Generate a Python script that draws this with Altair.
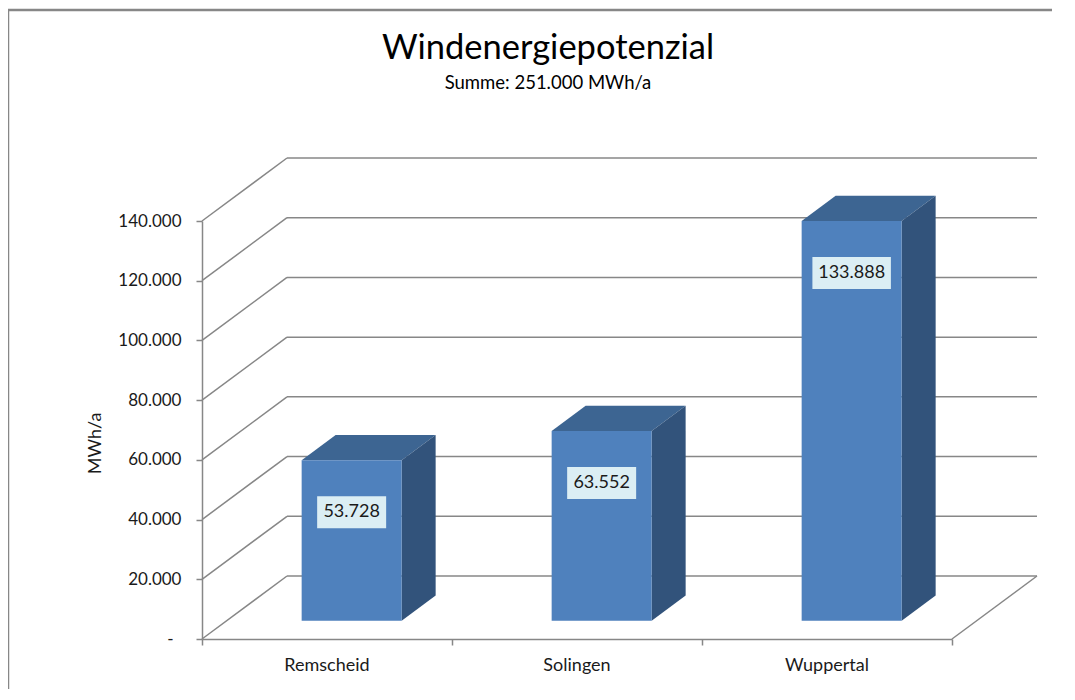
import altair as alt
import pandas as pd

# ---- data ----
cities = ["Remscheid", "Solingen", "Wuppertal"]
values = [53728, 63552, 133888]
y_ticks = [0, 20000, 40000, 60000, 80000, 100000, 120000, 140000]
x_ticks = [0, 1, 2, 3]
chart_title = "Windenergiepotenzial"
chart_subtitle = "Summe: 251.000 MWh/a"
y_title = "MWh/a"

# ---- layout / style ----
W, H = 750, 418
YMAX = 140000
NCAT = len(cities)
UX = NCAT / W          # data units per pixel (x)
UY = YMAX / H          # data units per pixel (y)
DX = 85 * UX           # depth of the 3-D box
DY = 63 * UY
F0 = 0.29              # front of the columns as a fraction of depth
FD = 0.40              # column depth as a fraction of depth
HALF = 50 * UX         # half column width
LAB_DROP = 52 * UY     # label centre below column top
LAB_HALF_H = 16 * UY

GRAY = "#878787"
TXT = "#1a1a1a"
FRONT = "#4f81bd"
TOP = "#3d6592"
SIDE = "#32537b"
LABBG = "#dbeef4"
FONT = "Lato"

# ---- derived tables ----
grid_rows = []
for v in y_ticks:
    grid_rows.append({"x": 0.0, "y": v, "x2": DX, "y2": v + DY})
    grid_rows.append({"x": DX, "y": v + DY, "x2": NCAT + DX, "y2": v + DY})
grid_rows.append({"x": float(NCAT), "y": 0.0, "x2": NCAT + DX, "y2": DY})
grid = pd.DataFrame(grid_rows)

front_rows, face_rows = [], []
for i, (c, v) in enumerate(zip(cities, values)):
    xc = i + 0.5
    x0 = xc - HALF + F0 * DX
    x1 = xc + HALF + F0 * DX
    yb = F0 * DY
    yt = v + F0 * DY
    ddx, ddy = FD * DX, FD * DY
    lab = format(v / 1000, ".3f")
    half_w = (len(lab) * 9.5 + 12) / 2 * UX
    lc = yt - LAB_DROP
    front_rows.append({"city": c, "cx": xc, "x0": x0, "x1": x1, "yb": yb, "yt": yt,
                       "label": lab, "lx": (x0 + x1) / 2,
                       "lx0": (x0 + x1) / 2 - half_w, "lx1": (x0 + x1) / 2 + half_w,
                       "ly": lc, "ly0": lc - LAB_HALF_H, "ly1": lc + LAB_HALF_H})
    # top face (parallelogram) as a vertical band
    for x, lo, hi in [(x0, yt, yt), (x0 + ddx, yt, yt + ddy), (x1, yt, yt + ddy), (x1 + ddx, yt + ddy, yt + ddy)]:
        face_rows.append({"face": "top", "key": c + "-top", "x": x, "lo": lo, "hi": hi})
    # side face (parallelogram)
    for x, lo, hi in [(x1, yb, yt), (x1 + ddx, yb + ddy, yt + ddy)]:
        face_rows.append({"face": "side", "key": c + "-side", "x": x, "lo": lo, "hi": hi})
front = pd.DataFrame(front_rows)
faces = pd.DataFrame(face_rows)

xscale = alt.Scale(domain=[0, NCAT], nice=False, zero=False)
yscale = alt.Scale(domain=[0, YMAX], nice=False, zero=True)

x_axis = alt.Axis(values=x_ticks, labels=False, grid=False, title=None,
                  domainColor=GRAY, domainWidth=1.5, tickColor=GRAY, tickWidth=1.5, tickSize=6)
y_axis = alt.Axis(values=y_ticks, grid=False, title=y_title,
                  labelExpr="datum.value == 0 ? '-' : format(datum.value / 1000, '.3f')",
                  domainColor=GRAY, domainWidth=1.5, tickColor=GRAY, tickWidth=1.5, tickSize=6,
                  labelFont=FONT, labelFontSize=17, labelColor=TXT,
                  labelPadding={"condition": {"test": "datum.value == 0", "value": 23}, "value": 15},
                  titleFont=FONT, titleFontSize=18, titleFontWeight="normal", titleColor=TXT,
                  titleX=-98, titleY=222, titleAngle=270, titleAlign="center")


def X(f):
    return alt.X(f, type="quantitative", scale=xscale, axis=x_axis)


def Y(f):
    return alt.Y(f, type="quantitative", scale=yscale, axis=y_axis, stack=None)


border = alt.Chart(pd.DataFrame({"a": [0]})).mark_rect(
    filled=False, stroke=GRAY, strokeWidth=2.5
).encode(x=alt.value(-194), x2=alt.value(W + 300), y=alt.value(-211), y2=alt.value(H + 300))

title_layer = alt.Chart(pd.DataFrame({"t": [chart_title]})).mark_text(
    font=FONT, fontSize=34.5, color="#000", align="center", baseline="alphabetic"
).encode(x=alt.value(346), y=alt.value(-162), text="t:N")
subtitle_layer = alt.Chart(pd.DataFrame({"t": [chart_subtitle]})).mark_text(
    font=FONT, fontSize=18.5, color="#000", align="center", baseline="alphabetic"
).encode(x=alt.value(346), y=alt.value(-132), text="t:N")

grid_layer = alt.Chart(grid).mark_rule(color=GRAY, strokeWidth=1.5).encode(
    x=X("x"), y=Y("y"), x2="x2", y2="y2")

face_layer = alt.Chart(faces).mark_area(orient="vertical").encode(
    x=X("x"), y=Y("lo"), y2="hi", detail="key:N",
    color=alt.Color("face:N", scale=alt.Scale(domain=["top", "side"], range=[TOP, SIDE]), legend=None))

front_layer = alt.Chart(front).mark_rect(color=FRONT).encode(
    x=X("x0"), x2="x1", y=Y("yb"), y2="yt")

box_layer = alt.Chart(front).mark_rect(color=LABBG).encode(
    x=X("lx0"), x2="lx1", y=Y("ly0"), y2="ly1")

val_layer = alt.Chart(front).mark_text(font=FONT, fontSize=18, color=TXT, baseline="middle").encode(
    x=X("lx"), y=Y("ly"), text="label:N")

cat_layer = alt.Chart(front).mark_text(font=FONT, fontSize=18, color=TXT, baseline="middle").encode(
    x=X("cx"), y=alt.value(H + 27), text="city:N")

chart = alt.layer(
    border, title_layer, subtitle_layer, grid_layer, face_layer, front_layer, box_layer, val_layer, cat_layer
).properties(
    width=W, height=H,
    autosize=alt.AutoSizeParams(type="none"),
    padding={"left": 194, "top": 213, "right": 100, "bottom": 50},
).configure_view(strokeWidth=0)

chart.save("out.html", embed_options={"renderer": "svg", "actions": False})
